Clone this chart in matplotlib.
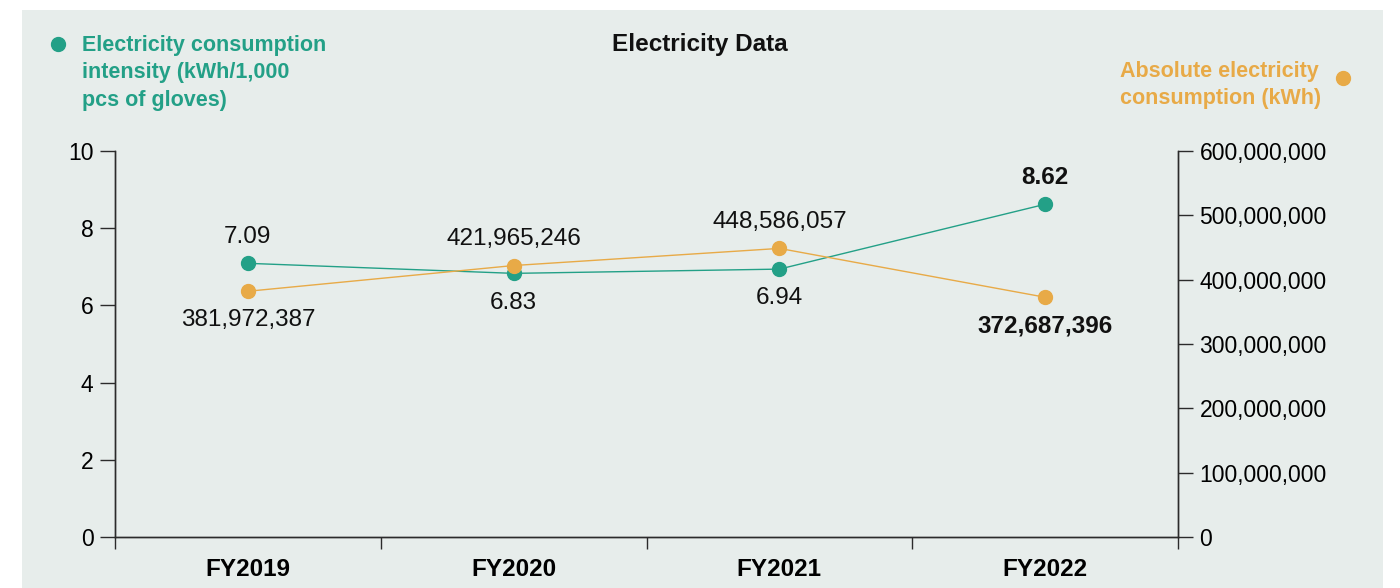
import numpy as np
import matplotlib.pyplot as plt
from matplotlib.patches import Rectangle
from matplotlib.ticker import FuncFormatter, FixedLocator

plt.rcParams['font.family'] = ['Liberation Sans', 'DejaVu Sans']

# --- Data ---
years = ['FY2019', 'FY2020', 'FY2021', 'FY2022']
intensity = [7.09, 6.83, 6.94, 8.62]                       # kWh / 1,000 pcs of gloves
consumption = [381972387, 421965246, 448586057, 372687396]  # kWh

GREEN = '#23a087'
ORANGE = '#e8aa47'
PANEL = '#e7edeb'
AXIS = '#2b2b2b'

fig = plt.figure(figsize=(14, 5.88), dpi=100, facecolor='white')
fig.patches.append(Rectangle((22 / 1400, 0), (1383 - 22) / 1400, 578 / 588,
                             transform=fig.transFigure, facecolor=PANEL,
                             edgecolor='none', zorder=-10))

ax = fig.add_axes([115 / 1400, 51 / 588, (1178 - 115) / 1400, (537 - 151) / 588])
ax.set_facecolor('none')
ax2 = ax.twinx()
ax2.set_facecolor('none')

x = np.arange(len(years))

ax.plot(x, intensity, color=GREEN, lw=1.0, marker='o', ms=10, mec=GREEN, zorder=3, clip_on=False)
ax2.plot(x, consumption, color=ORANGE, lw=1.0, marker='o', ms=10, mec=ORANGE, zorder=3, clip_on=False)

# --- Axes setup ---
ax.set_xlim(-0.5, 3.5)
ax.set_ylim(0, 10)
ax2.set_ylim(0, 600_000_000)
ax.set_yticks([0, 2, 4, 6, 8, 10])
ax2.set_yticks(np.arange(0, 600_000_001, 100_000_000))
ax2.yaxis.set_major_formatter(FuncFormatter(lambda v, p: f'{int(v):,}'))

ax.set_xticks(x)
ax.set_xticklabels(years, fontweight='bold', fontsize=17.5)
ax.tick_params(axis='x', which='major', length=0, pad=15)
ax.xaxis.set_minor_locator(FixedLocator([-0.5, 0.5, 1.5, 2.5, 3.5]))
ax.tick_params(axis='x', which='minor', length=8.5, width=1, color=AXIS, direction='out')

ax.tick_params(axis='y', length=10.5, width=1, color=AXIS, labelsize=16.5, pad=5)
ax2.tick_params(axis='y', length=10.5, width=1, color=AXIS, labelsize=16.5, pad=5)

for a in (ax, ax2):
    a.spines['top'].set_visible(False)
    for s in ('left', 'right', 'bottom'):
        a.spines[s].set_color(AXIS)
        a.spines[s].set_linewidth(1)

# --- Value labels ---
green_off = [19, -21, -21, 19]
orange_off = [-21, 19, 19, -21]
for i in range(len(years)):
    w = 'bold' if i == len(years) - 1 else 'normal'
    ax.annotate(f'{intensity[i]:.2f}', (x[i], intensity[i]), xytext=(0, green_off[i]),
                textcoords='offset points', ha='center', va='center',
                fontsize=17.5, fontweight=w, color='#111111', zorder=5)
    ax2.annotate(f'{consumption[i]:,}', (x[i], consumption[i]), xytext=(0, orange_off[i]),
                 textcoords='offset points', ha='center', va='center',
                 fontsize=17.5, fontweight=w, color='#111111', zorder=5)

# --- Title and series keys ---
fig.text(0.5, 1 - 45 / 588, 'Electricity Data', ha='center', va='center',
         fontsize=17.5, fontweight='bold', color='#111111')

fig.text(82 / 1400, 1 - 35 / 588, 'Electricity consumption\nintensity (kWh/1,000\npcs of gloves)',
         ha='left', va='top', fontsize=15.5, fontweight='bold', color=GREEN, linespacing=1.4)
fig.lines.append(plt.Line2D([58 / 1400], [1 - 44 / 588], transform=fig.transFigure,
                            marker='o', ms=10, color=GREEN, ls='none'))

fig.text(1321 / 1400, 1 - 61 / 588, 'Absolute electricity\nconsumption (kWh)',
         ha='right', va='top', fontsize=15.5, fontweight='bold', color=ORANGE,
         linespacing=1.4, multialignment='left')
fig.lines.append(plt.Line2D([1343 / 1400], [1 - 78 / 588], transform=fig.transFigure,
                            marker='o', ms=10, color=ORANGE, ls='none'))

fig.savefig('out.png', dpi=100, facecolor=fig.get_facecolor())
